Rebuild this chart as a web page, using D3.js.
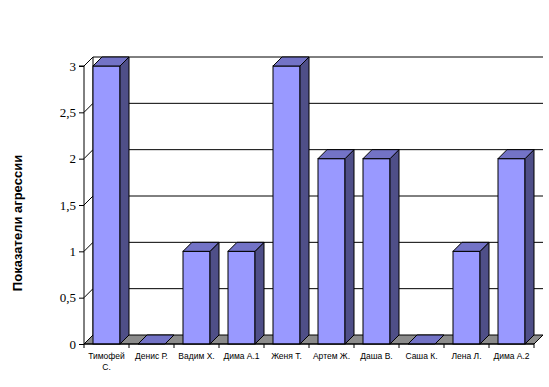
<!DOCTYPE html>
<html>
<head>
<meta charset="utf-8">
<script src="https://cdn.jsdelivr.net/npm/d3@7"></script>
<style>
  body { margin: 0; background: #fff; }
  svg { display: block; }
</style>
</head>
<body>
<div id="chart"></div>
<script>
const names = ['Тимофей С.', 'Денис Р.', 'Вадим Х.', 'Дима А.1', 'Женя Т.', 'Артем Ж.', 'Даша В.', 'Саша К.', 'Лена Л.', 'Дима А.2'];
const values = [3, 0, 1, 1, 3, 2, 2, 0, 1, 2];
const yTicks = [0, 0.5, 1, 1.5, 2, 2.5, 3];
const yTitle = 'Показатели агрессии';

const W = 549, H = 387;
const plotL = 84, plotR = 534, plotB = 344, plotT = 66;
const dep = 9; // 3d depth offset

const svg = d3.select('#chart').append('svg')
  .attr('width', W)
  .attr('height', H);

const y = d3.scaleLinear([0, 3], [plotB, plotT]);
const x = d3.scaleBand(names, [plotL, plotR]).paddingInner(0.4).paddingOuter(0.2);
const xEdge = d3.scaleLinear([0, names.length], [plotL, plotR]);

const poly = pts => 'M' + pts.map(p => p.join(',')).join('L') + 'Z';

// back wall gridlines
const walls = svg.append('g').attr('fill', 'none').attr('stroke', '#000');
yTicks.filter(t => t > 0).forEach(t => {
  walls.append('line')
    .attr('x1', plotL + dep).attr('x2', plotR + dep)
    .attr('y1', y(t) - dep).attr('y2', y(t) - dep);
  walls.append('line')
    .attr('x1', plotL).attr('x2', plotL + dep)
    .attr('y1', y(t)).attr('y2', y(t) - dep);
});
walls.append('line')
  .attr('x1', plotL + dep).attr('x2', plotL + dep)
  .attr('y1', y(3) - dep).attr('y2', y(0) - dep);

// floor
svg.append('path')
  .attr('d', poly([[plotL, plotB], [plotR, plotB], [plotR + dep, plotB - dep], [plotL + dep, plotB - dep]]))
  .attr('fill', '#8c8c8c')
  .attr('stroke', '#000');

// bars
const bars = svg.append('g').attr('stroke', '#000').attr('stroke-width', 1);
names.forEach((n, i) => {
  const x0 = x(n), x1 = x(n) + x.bandwidth();
  const yv = y(values[i]);
  const g = bars.append('g');
  if (values[i] > 0) {
    g.append('rect')
      .attr('x', x0).attr('y', yv)
      .attr('width', x.bandwidth()).attr('height', plotB - yv)
      .attr('fill', '#9999ff');
    g.append('path')
      .attr('d', poly([[x1, yv], [x1 + dep, yv - dep], [x1 + dep, plotB - dep], [x1, plotB]]))
      .attr('fill', '#4f4f88');
  }
  g.append('path')
    .attr('d', poly([[x0, yv], [x1, yv], [x1 + dep, yv - dep], [x0 + dep, yv - dep]]))
    .attr('fill', '#7373c6');
});

// y axis
const yAxis = svg.append('g')
  .attr('transform', `translate(${plotL},0)`)
  .call(d3.axisLeft(y).tickValues(yTicks).tickSize(5).tickPadding(3)
    .tickFormat(d => String(d).replace('.', ',')));
yAxis.select('.domain').attr('d', `M-5,${y(3)}H0V${y(0)}`).attr('stroke', '#000');
yAxis.selectAll('.tick line').attr('stroke', '#000');
yAxis.selectAll('text')
  .attr('font-family', '"Liberation Serif", "Times New Roman", serif')
  .attr('font-size', 13)
  .attr('fill', '#000');

// x axis
const xAxis = svg.append('g');
xAxis.append('line')
  .attr('x1', plotL).attr('x2', plotR)
  .attr('y1', plotB).attr('y2', plotB)
  .attr('stroke', '#000');
d3.range(names.length + 1).forEach(k => {
  xAxis.append('line')
    .attr('x1', xEdge(k)).attr('x2', xEdge(k))
    .attr('y1', plotB).attr('y2', plotB + 4)
    .attr('stroke', '#000');
});
names.forEach(n => {
  const t = xAxis.append('text')
    .attr('x', x(n) + x.bandwidth() / 2)
    .attr('y', plotB + 15)
    .attr('text-anchor', 'middle')
    .attr('font-family', '"Liberation Sans", Arial, sans-serif')
    .attr('font-size', 8.5)
    .attr('fill', '#000');
  const parts = n === 'Тимофей С.' ? ['Тимофей', 'С.'] : [n];
  parts.forEach((p, j) => {
    t.append('tspan').attr('x', x(n) + x.bandwidth() / 2).attr('dy', j ? 11 : 0).text(p);
  });
});

// y title
svg.append('text')
  .attr('transform', `translate(22,223) rotate(-90)`)
  .attr('text-anchor', 'middle')
  .attr('font-family', '"Liberation Sans", Arial, sans-serif')
  .attr('font-weight', 'bold')
  .attr('font-size', 13)
  .attr('fill', '#000')
  .text(yTitle);
</script>
</body>
</html>
